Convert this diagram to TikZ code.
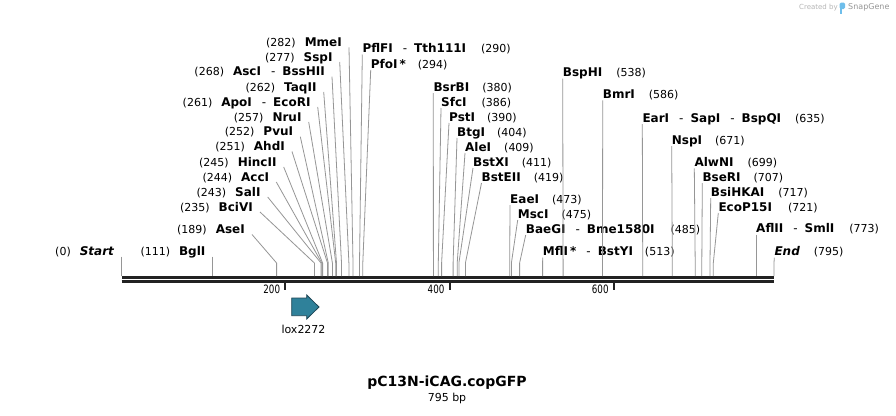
\documentclass[tikz,border=0pt]{standalone}
\usepackage{fontspec}
\usepackage{graphicx}
\setmainfont{DejaVu Sans}
\definecolor{sitegray}{RGB}{150,150,150}
\definecolor{bbone}{RGB}{34,34,34}
\definecolor{featfill}{RGB}{47,129,154}
\definecolor{featedge}{RGB}{30,70,85}
\definecolor{sgblue}{RGB}{110,190,235}
\definecolor{sggray}{RGB}{150,150,150}
\newcommand{\numf}{\fontsize{11}{13}\selectfont\mdseries}
\newcommand{\namef}{\fontsize{12}{14}\selectfont\bfseries}
\newcommand{\rsdash}{\hspace{10pt}{\mdseries -}\hspace{7pt}}
\newcommand{\Lsite}[6]{%
 \node[lbl,anchor=base east] (#1) at (#2,#3+4) {{\numf(#4)}\hspace{9pt}{\namef #5}};
 \coordinate (#1b) at (#6,263);
 \coordinate (#1s) at (#6,276);
 \draw[conn] ([xshift=7pt,yshift=-1pt]#1.base east) -- (#1b) -- (#1s);}
\newcommand{\Rsite}[7]{%
 \node[lbl,anchor=base west] (#1) at (#2,#3+4) {{\namef #5}\hspace{#7pt}{\numf(#4)}};
 \coordinate (#1b) at (#6,263);
 \coordinate (#1s) at (#6,276);
 \draw[conn] ([yshift=-2pt]#1.base west) -- (#1b) -- (#1s);}
\tikzset{
 lbl/.style={inner sep=0pt},
 conn/.style={draw=sitegray, line width=0.8pt},
 ticklbl/.style={inner sep=0pt, anchor=east, font=\fontsize{11.5}{12}\selectfont},
 tickmark/.style={draw=bbone, line width=2pt},
}
\begin{document}
\begin{tikzpicture}[x=1pt,y=-1pt]
\fill[white] (0,0) rectangle (896,415);
\useasboundingbox (0,0) rectangle (896,415);
% backbone
\coordinate (bbL) at (121.5,277.5);
\coordinate (bbR) at (774,277.5);
\draw[bbone, line width=3.5pt] (bbL) -- (bbR);
\draw[bbone, line width=2.5pt] ([yshift=-4pt]bbL) -- ([yshift=-4pt]bbR);
% ticks
\foreach \t/\x in {200/285.3,400/449.6,600/613.8}{
 \coordinate (tk\t) at (\x,283);
 \draw[tickmark] (tk\t) -- ++(0,6.5);
 \node[ticklbl] (tl\t) at (\x-5,289.5) {\scalebox{0.76}[1]{\t}};
}
% left group
\Lsite{mme}{342}{42.3}{282}{MmeI}{353.0}
\Lsite{ssp}{332.7}{57}{277}{SspI}{348.9}
\Lsite{asc}{325}{71.7}{268}{AscI\rsdash BssHII}{341.5}
\Lsite{taq}{316.7}{87}{262}{TaqII}{336.5}
\Lsite{apo}{310.7}{102}{261}{ApoI\rsdash EcoRI}{335.7}
\Lsite{nru}{301.7}{117}{257}{NruI}{332.4}
\Lsite{pvu}{293.3}{131.7}{252}{PvuI}{328.3}
\Lsite{ahd}{285}{146.5}{251}{AhdI}{327.5}
\Lsite{hinc}{276.7}{162}{245}{HincII}{322.6}
\Lsite{acc}{269.3}{177}{244}{AccI}{321.8}
\Lsite{sal}{260.7}{192}{243}{SalI}{321.0}
\Lsite{bci}{253}{207}{235}{BciVI}{314.4}
\Lsite{ase}{245}{229.5}{189}{AseI}{276.6}
\Lsite{bgl}{205.6}{251.7}{111}{BglI}{212.6}
\Lsite{start}{114.5}{251.7}{0}{\textit{Start}}{121.5}
% right group
\Rsite{pfl}{362.3}{48.5}{290}{PflFI\rsdash Tth111I}{359.5}{15}
\Rsite{pfo}{370.7}{64}{294}{PfoI\,*}{362.8}{12}
\Rsite{bsrb}{433.3}{87}{380}{BsrBI}{433.4}{13}
\Rsite{sfc}{441}{102}{386}{SfcI}{438.3}{15}
\Rsite{pst}{449}{117}{390}{PstI}{441.6}{12}
\Rsite{btg}{457}{132}{404}{BtgI}{453.1}{12}
\Rsite{ale}{465}{147}{409}{AleI}{457.2}{13}
\Rsite{bstx}{473}{162}{411}{BstXI}{458.9}{13}
\Rsite{bste}{481.5}{177}{419}{BstEII}{465.4}{13}
\Rsite{eae}{510}{199}{473}{EaeI}{509.7}{13}
\Rsite{msc}{517.7}{214}{475}{MscI}{511.4}{13}
\Rsite{baeg}{525.7}{229}{485}{BaeGI\rsdash Bme1580I}{519.6}{16}
\Rsite{mfl}{542.7}{251.5}{513}{MflI\,*\rsdash BstYI}{542.6}{12}
\Rsite{bsph}{562.7}{72.5}{538}{BspHI}{563.1}{14}
\Rsite{bmr}{602.7}{94.3}{586}{BmrI}{602.5}{14}
\Rsite{ear}{642.3}{118}{635}{EarI\rsdash SapI\rsdash BspQI}{642.7}{14}
\Rsite{nsp}{671.7}{140}{671}{NspI}{672.3}{13}
\Rsite{alwn}{694.3}{162.3}{699}{AlwNI}{695.2}{14}
\Rsite{bser}{702.3}{177}{707}{BseRI}{701.8}{13}
\Rsite{bsih}{710.7}{192}{717}{BsiHKAI}{710.0}{14}
\Rsite{ecop}{718.3}{207}{721}{EcoP15I}{713.3}{16}
\Rsite{afl}{756}{228.5}{773}{AflII\rsdash SmlI}{756.0}{15}
\Rsite{end}{774.3}{251.7}{795}{\textit{End}}{774.0}{14}
% feature
\draw[fill=featfill, draw=featedge, line width=0.8pt]
 (291.7,298) -- (306.7,298) -- (306.7,295) -- (319,307) -- (306.7,319) -- (306.7,315.7) -- (291.7,315.7) -- cycle;
\node[inner sep=0pt, font=\fontsize{11}{13}\selectfont] (lox) at (303.5,329) {lox2272};
% title
\node[inner sep=0pt, font=\fontsize{14}{16}\selectfont\bfseries] (title) at (447,383) {pC13N-iCAG.copGFP};
\node[inner sep=0pt, font=\fontsize{11}{13}\selectfont] (bp) at (447,398.5) {795 bp};
% created by
\node[inner sep=0pt, anchor=west, text=sggray!70, font=\fontsize{7}{8}\selectfont] (cb) at (799,7.3) {Created by};
\fill[sgblue, rounded corners=1.5pt] (839.5,2.5) rectangle (845,9);
\fill[sgblue] (839.5,6) rectangle (842,13.5);
\node[inner sep=0pt, anchor=west, text=sggray, font=\fontsize{8}{9}\selectfont] (sg) at (848,7.3) {SnapGene};
\end{tikzpicture}
\end{document}
